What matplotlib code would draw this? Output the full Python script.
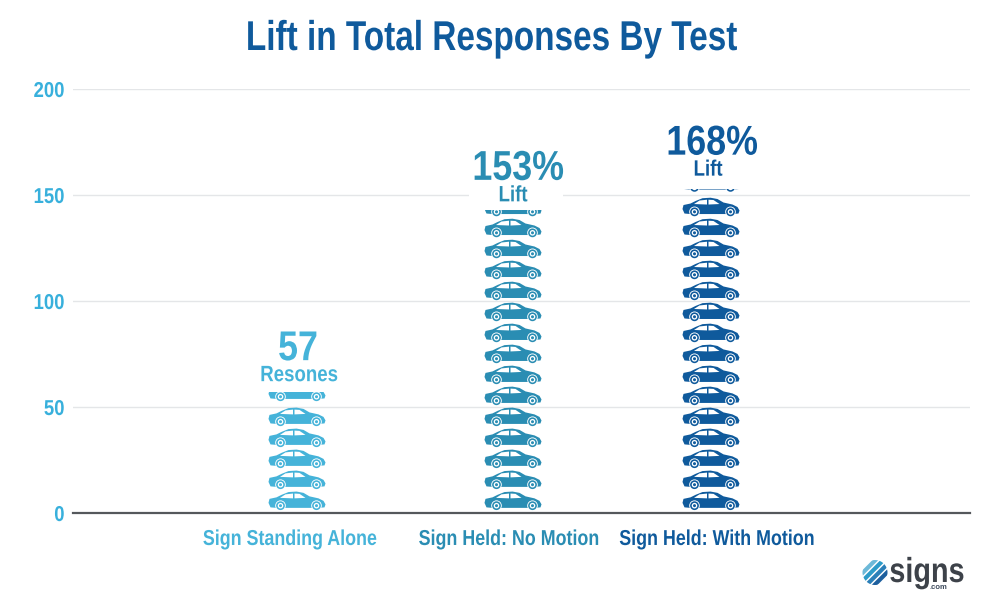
import matplotlib
matplotlib.use("Agg")
import matplotlib.pyplot as plt
import matplotlib.patheffects as pe
from matplotlib.path import Path
from matplotlib.patches import PathPatch, Circle, Rectangle
from matplotlib.transforms import Affine2D

categories = ["Sign Standing Alone", "Sign Held: No Motion", "Sign Held: With Motion"]
values = [57, 143, 153]
big_labels = ["57", "153%", "168%"]
small_labels = ["Resones", "Lift", "Lift"]
y_ticks = [0, 50, 100, 150, 200]

colors = ["#45b3d9", "#2a8db3", "#0f5a9c"]
tick_color = "#38b0dc"
SANS = ["Liberation Sans", "DejaVu Sans"]

# layout in reference pixels
car_x = [297, 513, 711]
tick_x = [290, 509, 717]
big_x = [298, 518, 712]
small_x = [299, 513, 708]
big_offset = [32, 30, 34]
small_offset = [11, 8.5, 13]
top_car_shift = [4, 0, 3.5]  # the cut off top car sits a bit higher

CAR_W = 57
SLOT = 9.9  # one car = about 10 responses
PX_PER_UNIT = 2.117

plt.rcParams["font.family"] = SANS
plt.rcParams["font.weight"] = "bold"

# car outline, pixels, y up
body = [(0, 8), (1, 12), (8, 13.5), (13, 16), (20, 18.8), (28, 19.3), (35, 18), (41, 14.5),
        (50, 12.5), (55, 10), (57, 6.5), (56, 3.5), (50, 3), (8, 3), (2, 3.5), (0, 8)]
win1 = [(11.5, 13), (17, 16.5), (24.5, 17.3), (24.5, 12.5), (11.5, 13)]
win2 = [(26, 17.3), (31, 17), (37, 13), (26, 12.5), (26, 17.3)]
wheels = [12, 48]


class Narrow(pe.AbstractPathEffect):
    # squeeze text sideways, the original font is a condensed one
    def __init__(self, sx, anchor="center"):
        super().__init__()
        self.sx = sx
        self.anchor = anchor

    def draw_path(self, renderer, gc, tpath, affine, rgbFace=None):
        box = tpath.get_extents(affine)
        cx = box.x1 if self.anchor == "right" else (box.x0 + box.x1) / 2
        squeeze = Affine2D().translate(-cx, 0).scale(self.sx, 1).translate(cx, 0)
        renderer.draw_path(gc, tpath, affine + squeeze, rgbFace)


def draw_car(ax, x, y, color, clip):
    t = Affine2D().scale(1, 1 / PX_PER_UNIT).translate(x - CAR_W / 2, y) + ax.transData
    parts = [(Path(body), color), (Path(win1), "white"), (Path(win2), "white")]
    for wx in wheels:
        for r, c in [(5.3, "white"), (4.4, color), (2.8, "white"), (1.5, color)]:
            parts.append((Path.circle((wx, 5.2), r), c))
    for path, c in parts:
        patch = PathPatch(path, facecolor=c, edgecolor="none", transform=t, zorder=3)
        ax.add_patch(patch)
        patch.set_clip_path(clip)


fig = plt.figure(figsize=(10, 6.14), dpi=100)
ax = fig.add_axes([0.073, 1 - 513 / 614, 0.897, (513 - 89) / 614])
ax.set_xlim(73, 970)
ax.set_ylim(0, 200)

for s in ["top", "right", "left"]:
    ax.spines[s].set_visible(False)
ax.spines["bottom"].set_color("#55585c")
ax.spines["bottom"].set_linewidth(1.6)
ax.spines["bottom"].set_zorder(5)

ax.set_yticks(y_ticks)
ax.tick_params(axis="y", length=0, pad=6, labelsize=15.5, labelcolor=tick_color)
for lab in ax.get_yticklabels():
    lab.set_path_effects([Narrow(0.86, "right")])
ax.grid(axis="y", color="#e4e6e8", linewidth=1)
ax.set_axisbelow(True)

ax.set_xticks(tick_x)
ax.set_xticklabels(categories, fontsize=15.5)
ax.tick_params(axis="x", length=0, pad=11.5)
for lab, c in zip(ax.get_xticklabels(), colors):
    lab.set_color(c)
    lab.set_path_effects([Narrow(0.83)])

for i, v in enumerate(values):
    clip = Rectangle((car_x[i] - 40, 0), 80, v, transform=ax.transData)
    y = 1
    while y < v:
        # a car that does not fit under the value gets cut off
        if y + 19.3 / PX_PER_UNIT > v:
            y += top_car_shift[i] / PX_PER_UNIT
        draw_car(ax, car_x[i], y, colors[i], clip)
        y += SLOT

# white box behind the middle label hides the gridline
ax.add_patch(Rectangle((469, values[1] + 1), 94, 35, facecolor="white", edgecolor="none", zorder=2))

for i, v in enumerate(values):
    ax.annotate(small_labels[i], (small_x[i], v), xytext=(0, small_offset[i]), textcoords="offset pixels",
                ha="center", va="baseline", fontsize=16, color=colors[i], zorder=4,
                path_effects=[Narrow(0.84)])
    ax.annotate(big_labels[i], (big_x[i], v), xytext=(0, big_offset[i]), textcoords="offset pixels",
                ha="center", va="baseline", fontsize=30, color=colors[i], zorder=4,
                path_effects=[Narrow(0.86)])

fig.text(0.4915, 1 - 50 / 614, "Lift in Total Responses By Test", ha="center", va="baseline",
         fontsize=30, color="#0f5a9c", path_effects=[Narrow(0.80)])

# logo, overlay in pixels
logo = fig.add_axes([0, 0, 1, 1], facecolor="none")
logo.set_xlim(0, 1000)
logo.set_ylim(614, 0)
logo.axis("off")
disc = Circle((875, 572.5), 12.5, transform=logo.transData)
stripes = [(-6, "#6db9d8"), (-2, "#2d9bc8"), (2, "#2a7fb8"), (6, "#1d5f9e")]
for off, c in stripes:
    ln, = logo.plot([875 - 16 + off, 875 + 16 + off], [572.5 + 16 + off, 572.5 - 16 + off],
                    color=c, linewidth=3, solid_capstyle="butt")
    ln.set_clip_path(disc)
logo.text(927, 582, "signs", fontsize=25, color="#3d4249", ha="center", va="baseline",
          path_effects=[Narrow(0.83)])
logo.text(938, 589, ".com", fontsize=5.5, color="#3d4a5c", ha="center", va="baseline")

fig.savefig("out.png", dpi=100)
